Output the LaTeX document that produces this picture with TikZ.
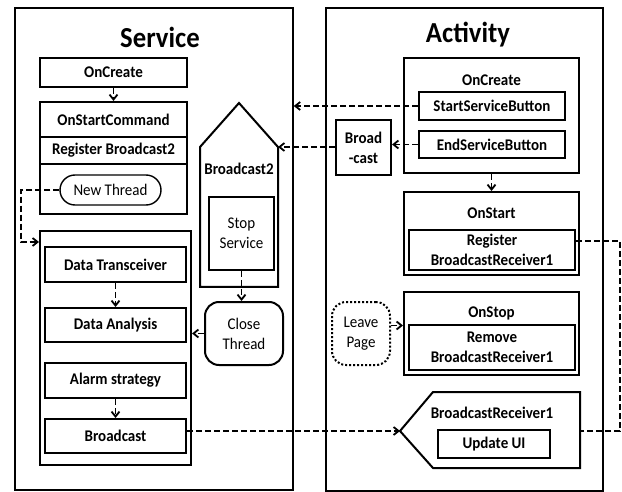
\documentclass[tikz,border=0pt]{standalone}
\usepackage{fontspec}
\setmainfont{Carlito}[FakeStretch=0.92]
\usetikzlibrary{arrows.meta}
\newcommand{\boxfont}{\fontsize{16.3}{20}\selectfont}
\newcommand{\titlefont}{\fontsize{29}{32}\selectfont}
\tikzset{
  box/.style={rectangle, draw, line width=2pt, inner sep=0pt, align=center, font=\boxfont\bfseries},
  plainbox/.style={box, font=\boxfont},
  frame/.style={rectangle, draw, line width=1.6pt, inner sep=0pt},
  lbl/.style={fill=none, inner sep=0pt, align=center, font=\boxfont\bfseries},
  dashline/.style={line width=1.8pt, dash pattern=on 6pt off 3pt},
  >={Straight Barb[length=5pt,width=8pt]},
}
\begin{document}
\begin{tikzpicture}[x=1pt, y=-1pt]
\useasboundingbox (0,0) rectangle (622,492);

% lanes
\node[frame, minimum width=278pt, minimum height=482pt] (service) at (154,249) {};
\node[frame, minimum width=277pt, minimum height=483pt] (activity) at (464.5,249.5) {};
\node[fill=none, font=\titlefont\bfseries] (servicettl) at (160,37) {Service};
\node[fill=none, font=\titlefont\bfseries] (activityttl) at (468,35) {Activity};

% service side
\node[box, minimum width=147pt, minimum height=29pt] (scre) at (113.5,72.5) {OnCreate};
\node[box, minimum width=147pt, minimum height=35pt] (osc) at (113.5,119.5) {OnStartCommand};
\node[box, minimum width=147pt, minimum height=27pt] (regb2) at (113.5,150.5) {Register Broadcast2};
\node[box, minimum width=147pt, minimum height=50pt] (ntrow) at (113.5,189) {};
\node[plainbox, line width=1.4pt, rounded corners=15pt, minimum width=101pt, minimum height=30pt] (newthread) at (110.5,190) {New Thread};

\node[box, minimum width=151pt, minimum height=234pt] (thread) at (115.5,348) {};
\node[box, minimum width=141pt, minimum height=35pt] (dtrans) at (115.5,264.5) {Data Transceiver};
\node[box, minimum width=141pt, minimum height=34pt] (danal) at (115.5,325) {Data Analysis};
\node[box, minimum width=141pt, minimum height=35pt] (alarm) at (115.5,380.5) {Alarm strategy};
\node[box, minimum width=141pt, minimum height=34pt] (bcast) at (115.5,436) {Broadcast};

\coordinate (bc2tip) at (239,103);
\coordinate (bc2r) at (278,147);
\draw[line width=2pt] (200,287) -- (200,147) -- (bc2tip) -- (bc2r) -- (278,287) -- cycle;
\node[lbl] (bc2lbl) at (239,169) {Broadcast2};
\node[plainbox, minimum width=65pt, minimum height=73pt] (stopsvc) at (241.5,233.5) {Stop\\Service};
\node[plainbox, rounded corners=14pt, minimum width=78pt, minimum height=63pt] (closeth) at (244,333.5) {Close\\Thread};

% activity side
\node[box, minimum width=175pt, minimum height=115pt] (acre) at (491.5,115.5) {};
\node[lbl] (acrelbl) at (491.5,80) {OnCreate};
\node[box, minimum width=146pt, minimum height=28pt] (startbtn) at (492,106) {StartServiceButton};
\node[box, minimum width=146pt, minimum height=27pt] (endbtn) at (492,144.5) {EndServiceButton};
\node[box, minimum width=55pt, minimum height=55pt] (bcbox) at (363.5,147.5) {Broad\\-cast};

\node[box, minimum width=175pt, minimum height=83pt] (ostart) at (491.5,233.5) {};
\node[lbl] (ostartlbl) at (491.5,213) {OnStart};
\node[box, minimum width=166pt, minimum height=40pt] (regbr1) at (492,250) {Register\\BroadcastReceiver1};

\node[box, minimum width=175pt, minimum height=83pt] (ostop) at (491.5,333.5) {};
\node[lbl] (ostoplbl) at (491.5,313) {OnStop};
\node[box, minimum width=166pt, minimum height=45pt] (rembr1) at (492,347.5) {Remove\\BroadcastReceiver1};
\node[plainbox, dotted, rounded corners=14pt, minimum width=58pt, minimum height=63pt] (leavepg) at (361,333.5) {Leave\\Page};

\coordinate (br1tip) at (400,431);
\coordinate (br1r) at (580,431);
\draw[line width=2pt] (br1tip) -- (433,392) -- (580,392) -- (580,468) -- (433,468) -- cycle;
\node[lbl] (br1lbl) at (492,413) {BroadcastReceiver1};
\node[box, minimum width=112pt, minimum height=28pt] (updui) at (494,444) {Update UI};

% connectors
\path[->, dashline] (scre) edge (osc);
\path[->, dashline] (dtrans) edge (danal);
\path[->, dashline] (alarm) edge (bcast);
\path[->, dashline] (acre) edge (ostart);
\draw[->, dashline] (stopsvc.south) -- (stopsvc.south |- closeth.north);
\coordinate (tleft) at (21,242);
\draw[->, dashline] (newthread.west) -| (tleft) -- (tleft -| thread.west);
\draw[->, dashline] (closeth.west) -- (closeth.west -| thread.east);
\draw[->, dashline] (startbtn.west) -- (startbtn.west -| service.east);
\draw[->, dashline] (endbtn.west) -- (endbtn.west -| bcbox.east);
\draw[->, dashline] (bcbox.west |- bc2r) -- (bc2r);
\draw[->, dashline] ([yshift=8pt]leavepg.east) -- ([yshift=8pt]leavepg.east -| ostop.west);
\draw[->, dashline] (bcast.east |- br1tip) -- (br1tip);
\coordinate (rcorner) at (620,241);
\draw[dashline] (rcorner -| regbr1.east) -- (rcorner) |- (br1r);
\end{tikzpicture}
\end{document}
